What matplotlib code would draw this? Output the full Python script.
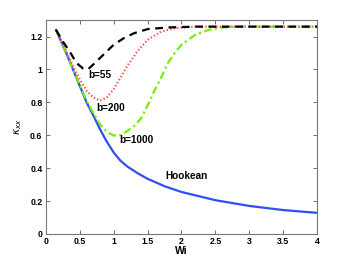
import numpy as np
import matplotlib.pyplot as plt

plt.rcParams['font.family'] = ['Liberation Sans', 'DejaVu Sans']
plt.rcParams['mathtext.fontset'] = 'dejavusans'

# Hookean
wi_h = [0.15, 0.3, 0.4, 0.5, 0.6, 0.7, 0.8, 0.9, 1.0, 1.1, 1.2, 1.35, 1.5, 1.75, 2.0,
        2.5, 3.0, 3.5, 4.0]
k_h = [1.24, 1.10, 1.00, 0.90, 0.80, 0.72, 0.635, 0.56, 0.495, 0.445, 0.41, 0.37, 0.335,
       0.29, 0.255, 0.205, 0.17, 0.145, 0.128]

# b=55
wi_55 = [0.15, 0.25, 0.35, 0.45, 0.55, 0.62, 0.7, 0.8, 0.9, 1.0, 1.15, 1.3, 1.5, 1.8, 2.2, 4.0]
k_55 = [1.24, 1.17, 1.11, 1.04, 1.005, 1.0, 1.03, 1.07, 1.11, 1.15, 1.19, 1.22, 1.245, 1.255, 1.26, 1.26]

# b=200
wi_200 = [0.15, 0.3, 0.4, 0.5, 0.6, 0.7, 0.8, 0.9, 1.0, 1.1, 1.2, 1.35, 1.5, 1.7, 1.9, 2.2, 4.0]
k_200 = [1.24, 1.11, 1.02, 0.94, 0.87, 0.83, 0.81, 0.83, 0.88, 0.95, 1.02, 1.11, 1.18, 1.23, 1.25, 1.26, 1.26]

# b=1000
wi_1000 = [0.15, 0.3, 0.4, 0.5, 0.6, 0.7, 0.8, 0.9, 1.0, 1.1, 1.2, 1.3, 1.4, 1.5, 1.6, 1.7,
           1.8, 1.9, 2.0, 2.2, 2.4, 2.6, 2.8, 4.0]
k_1000 = [1.24, 1.10, 1.00, 0.905, 0.81, 0.735, 0.665, 0.62, 0.598, 0.60, 0.625, 0.655, 0.70,
          0.78, 0.87, 0.95, 1.04, 1.10, 1.15, 1.21, 1.24, 1.255, 1.26, 1.26]

fig = plt.figure(figsize=(3.5, 2.64), dpi=100)
ax = fig.add_axes([0.131, 0.114, 0.775, 0.81])

ax.plot(wi_h, k_h, color='#2f4ff5', lw=1.6)
ax.plot(wi_1000, k_1000, color='#77ee00', lw=1.6, dashes=(3.5, 1.5, 1, 1.5))
ax.plot(wi_200, k_200, color='#ff5050', lw=1.6, linestyle=(0, (0.6, 1.0)))
ax.plot(wi_55, k_55, color='black', lw=1.6, dashes=(3.5, 2.5))

txt = dict(fontsize=7.2, fontweight='bold')
ax.text(0.62, 0.95, 'b=55', **txt)
ax.text(0.75, 0.75, 'b=200', **txt)
ax.text(1.08, 0.555, 'b=1000', **txt)
ax.text(1.76, 0.336, 'Hookean', **txt)

ax.set_xlim(0, 4)
ax.set_ylim(0, 1.3)
ax.set_xticks(np.arange(0, 4.01, 0.5))
ax.set_xticklabels(['0', '0.5', '1', '1.5', '2', '2.5', '3', '3.5', '4'])
ax.set_yticks(np.arange(0, 1.21, 0.2))
ax.set_yticklabels(['0', '0.2', '0.4', '0.6', '0.8', '1', '1.2'])
ax.tick_params(direction='in', top=True, right=True, length=3, width=0.6,
               labelsize=6.3, color='#555555', pad=2.5)
for lab in ax.get_xticklabels() + ax.get_yticklabels():
    lab.set_fontweight('bold')
for s in ax.spines.values():
    s.set_color('#777777')
    s.set_linewidth(0.8)

ax.set_xlabel('Wi', fontsize=7.5, fontweight='bold', labelpad=0)
ax.set_ylabel(r'$\kappa_{xx}$', fontsize=7.5, labelpad=4)

fig.savefig('out.png', dpi=100)
